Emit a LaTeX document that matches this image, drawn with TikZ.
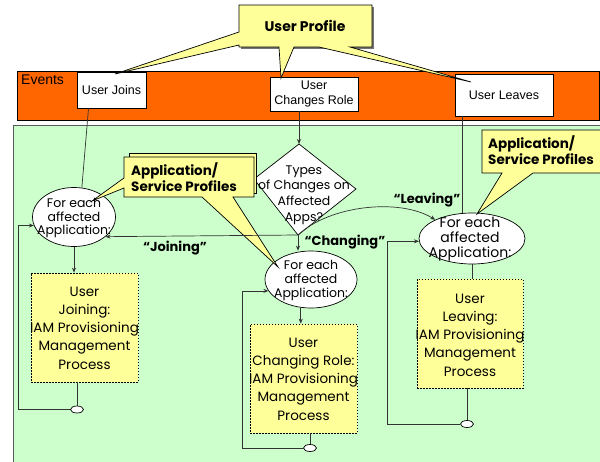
\documentclass[tikz,border=0pt]{standalone}
\usepackage{fontspec}
\setmainfont{Liberation Sans}
\newfontfamily\fut{Poppins}
\usetikzlibrary{shapes.geometric,arrows.meta,calc}
\definecolor{orng}{HTML}{FF6600}
\definecolor{yel}{HTML}{FFFF99}
\definecolor{grn}{HTML}{CCFFCC}
\definecolor{ln}{HTML}{333333}
\begin{document}
\begin{tikzpicture}[x=1pt,y=-1pt,
  arr/.style={-{Stealth[length=5pt,width=4pt]}, draw=ln, line width=0.7pt},
  cn/.style={draw=ln, line width=0.7pt},
  evbox/.style={draw=black, fill=white, line width=0.7pt, inner sep=0pt, align=center, font=\fontsize{12.5}{15}\selectfont},
  ell/.style={ellipse, draw=black, fill=white, inner sep=0pt, line width=0.7pt},
  proc/.style={rectangle, draw=black, fill=yel, dash pattern=on 1.5pt off 1.5pt, inner sep=0pt, line width=0.7pt},
  ptxt/.style={align=center, font=\fut\fontsize{13.5}{18.3}\selectfont, inner sep=0pt},
  etxt/.style={align=center, inner sep=0pt},
  lbl/.style={font=\fut\bfseries\fontsize{13}{15}\selectfont, inner sep=0pt},
  call/.style={draw=black, fill=yel, line width=0.7pt, line join=miter},
  ctxt/.style={anchor=west, align=left, inner sep=0pt, font=\fut\bfseries\fontsize{13.5}{16}\selectfont},
  knob/.style={ellipse, draw=black, fill=white, minimum width=13pt, minimum height=7pt, inner sep=0pt, line width=0.7pt},
]
\useasboundingbox (0,0) rectangle (600,461);
\clip (0,0) rectangle (600,461);
% green area
\fill[grn] (13,125) rectangle (610,470);
\draw[draw=black!65, line width=1pt] (13,470) -- (13,125) -- (610,125);
% events bar
\draw[fill=orng, line width=0.7pt] (17,71) rectangle (599,120);
\node[anchor=north west, inner sep=0pt, font=\fontsize{14}{16}\selectfont] (evt) at (21,75) {Events};
\node[evbox, minimum width=69pt, minimum height=36pt] (uj) at (111.5,90) {User Joins};
\node[evbox, minimum width=88pt, minimum height=34pt] (ucr) at (314,94) {User\\Changes Role};
\node[evbox, minimum width=98pt, minimum height=42pt] (ul) at (504,95) {User Leaves};
% user profile callout
\fill[black!55] (241,7) rectangle (374,49);
\draw[call] (239,5) -- (372,5) -- (372,47) -- (350,47) -- (471,82) -- (319,47) -- (294,47) -- (281,78) -- (279,47) -- (239,47) -- (239,45) -- (115,74) -- (239,32) -- cycle;
\node[inner sep=0pt, font=\fut\bfseries\fontsize{14}{16}\selectfont] (up) at (305,26) {User Profile};
% ellipses
\node[ell, minimum width=83pt, minimum height=59pt] (e1) at (74,217) {};
\node[ell, minimum width=92pt, minimum height=57pt] (e2) at (311,279.5) {};
\node[ell, minimum width=106pt, minimum height=51pt] (e3) at (472,238.5) {};
% diamond
\coordinate (dt) at (299,144);
\coordinate (dr) at (356,189);
\coordinate (db) at (298,235);
\coordinate (dl) at (254,179);
\draw[fill=white, line width=0.7pt] (dt) -- (dr) -- (db) -- (dl) -- cycle;
\node[etxt, font=\fut\fontsize{12.5}{15.7}\selectfont] (dtxt) at (304,195) {Types\\of Changes on\\Affected\\Apps?};
% process boxes
\node[proc, minimum width=107pt, minimum height=109pt] (b1) at (84.5,327.5) {};
\node[proc, minimum width=107pt, minimum height=109pt] (b2) at (303.5,378.5) {};
\node[proc, minimum width=106pt, minimum height=109pt] (b3) at (470,333.5) {};
\node[ptxt] (b1t) at (84.5,328) {User\\Joining:\\IAM Provisioning\\Management\\Process};
\node[ptxt] (b2t) at (303.5,379) {User\\Changing Role:\\IAM Provisioning\\Management\\Process};
\node[ptxt] (b3t) at (470,335) {User\\Leaving:\\IAM Provisioning\\Management\\Process};
% knobs
\node[knob] (s1) at (77,409.5) {};
\node[knob] (s2) at (310,448) {};
\node[knob] (s3) at (467,424) {};
% callouts
\draw[call] (129,153) rectangle (256,193);
\draw[call] (124,157) -- (254,157) -- (254,197) -- (233,197) -- (278,267) -- (202,197) -- (124,197) -- (124,188) -- (92,201) -- (124,178) -- cycle;
\node[ctxt] (cp1) at (131,177) {Application/\\Service Profiles};
\draw[call] (482,130) -- (610,130) -- (610,173) -- (533,173) -- (477,214) -- (502,173) -- (482,173) -- cycle;
\node[ctxt] (cp2) at (488,150) {Application/\\Service Profiles};
% ellipse texts
\node[etxt, font=\fut\fontsize{12.5}{13.5}\selectfont] (e1t) at (74,218) {For each\\affected\\Application:};
\node[etxt, font=\fut\fontsize{12.5}{14}\selectfont] (e2t) at (311,280) {For each\\affected\\Application:};
\node[etxt, font=\fut\fontsize{14}{15}\selectfont] (e3t) at (470,239) {For each\\affected\\Application:};
% connectors from events
\coordinate (ujo) at ($(uj.south west)!0.17!(uj.south east)$);
\draw[cn] (ujo) -- (e1.75);
\coordinate (ucro) at (ucr.south -| dt);
\draw[arr] (ucro) -- (dt);
\coordinate (ulo) at ($(ul.south west)!0.08!(ul.south east)$);
\draw[cn] (ulo) -- (ulo |- e3.north);
% decision branches
\draw[arr] (db) -- (e1.328);
\draw[arr] (db) -- (db |- e2.north);
\draw[arr] (db) .. controls (330,205) and (400,198) .. (e3.153);
\node[lbl] (lj) at (175,248) {“Joining”};
\node[lbl] (lc) at (345,242) {“Changing”};
\node[lbl] (ll) at (427,200) {“Leaving”};
% ellipse to process
\draw[arr] (e1.south) -- (e1.south |- b1.north);
\draw[arr] (e2.250) -- (e2.250 |- b2.north);
\draw[cn] (e3.south) -- (e3.south |- b3.north);
% process to knobs
\draw[cn] (b1.south -| s1) -- (s1.north);
\draw[cn] (b2.south -| s2) -- (s2.north);
\draw[cn] (b3.south -| s3) -- (s3.north);
% loops
\coordinate (l1) at (18,409.5);
\coordinate (l2) at (242,448);
\coordinate (l3) at (387,424);
\draw[arr] (s1.west) -- (l1) |- (e1.192);
\draw[arr] (s2.west) -- (l2) |- (e2.195);
\draw[arr] (s3.west) -- (l3) |- (e3.183);
\end{tikzpicture}
\end{document}
